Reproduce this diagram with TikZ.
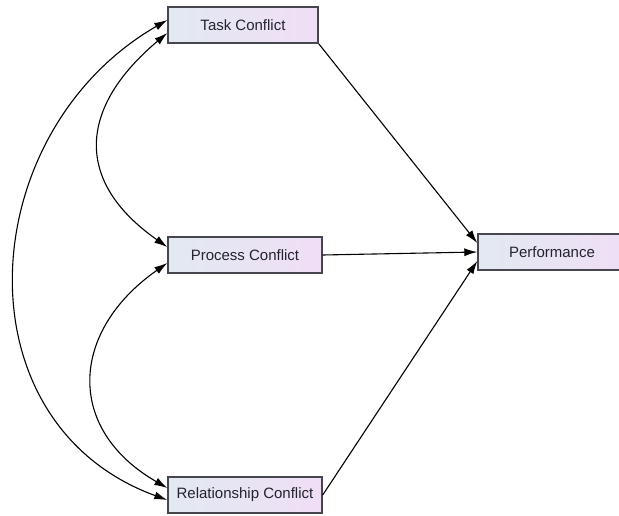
\documentclass[tikz,border=0pt]{standalone}
\usepackage{fontspec}
\setmainfont{Liberation Sans}
\usepackage{tikz}
\usetikzlibrary{arrows.meta}

\definecolor{boxleft}{RGB}{226,233,241}
\definecolor{boxright}{RGB}{240,222,246}
\definecolor{boxline}{RGB}{70,70,78}
\definecolor{boxtext}{RGB}{35,35,45}

\begin{document}
\begin{tikzpicture}[x=1pt, y=1pt, node distance=230pt, auto,
    factor/.style={draw=boxline, line width=1.4pt, rectangle, left color=boxleft, right color=boxright,
        minimum height=36pt, inner sep=0pt, text=boxtext, font=\fontsize{15}{18}\selectfont},
    path/.style={-{Latex[length=13pt, width=8pt]}, line width=1.1pt},
    corr/.style={{Latex[length=13pt, width=8pt]}-{Latex[length=13pt, width=8pt]}, line width=1.1pt}]
    \useasboundingbox (0,0) rectangle (619,-516);

    \node[factor, minimum width=150pt] (task) at (243,-25) {Task Conflict};
    \node[factor, minimum width=154pt, below of=task, xshift=2pt] (process) {Process Conflict};
    \node[factor, minimum width=154pt, below of=process, node distance=240pt] (relation) {Relationship Conflict};
    \node[factor, minimum width=148pt, right of=process, node distance=307pt, yshift=3pt] (perf) {Performance};

    \draw[path] (task.south east) -- ([yshift=9pt]perf.west);
    \draw[path] (process.east) -- (perf.west);
    \draw[path] (relation.east) -- ([yshift=-9pt]perf.west);

    % covariances
    \draw[corr] ([yshift=5pt]task.west) to[out=210, in=160, looseness=1.2] ([yshift=-5pt]relation.west);
    \draw[corr] ([yshift=-8pt]task.west) to[out=220, in=145, looseness=1.38] ([yshift=8pt]process.west);
    \draw[corr] ([yshift=-8pt]process.west) to[out=215, in=150, looseness=1.35] ([yshift=7pt]relation.west);
\end{tikzpicture}
\end{document}
